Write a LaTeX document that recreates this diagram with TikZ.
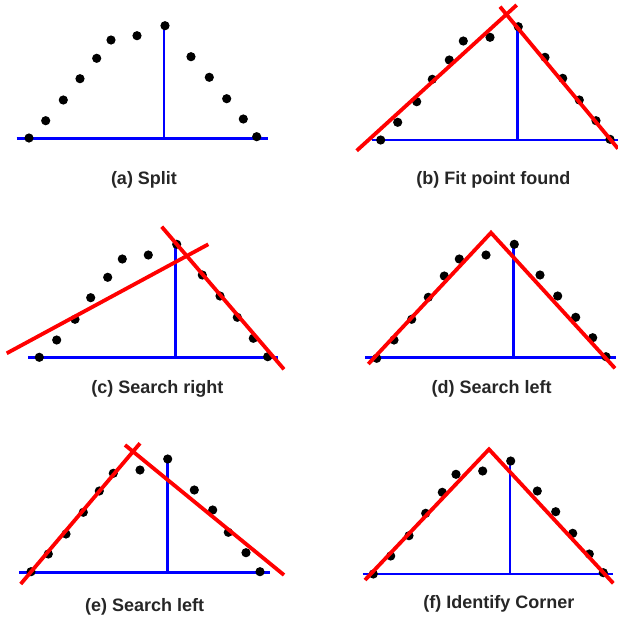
\documentclass[tikz,border=0pt]{standalone}
\usepackage{fontspec}
\setmainfont{Liberation Sans}
\begin{document}
\begin{tikzpicture}[x=1pt,y=-1pt,
  dot/.style={fill=black,draw=none},
  baseln/.style={draw=blue,line width=2.8pt},
  fitln/.style={draw=red,line width=3.8pt,line join=miter},
  caption/.style={font=\fontsize{18}{21}\selectfont\bfseries,text=black!85,inner sep=0pt}]
\useasboundingbox (0,0) rectangle (618,619);
% ---------- (a) ----------
\draw[baseln] (16.7,138.3) -- (267.7,138.3);
\draw[baseln] (164,25.7) -- (164,138.3);
\foreach \p in {(29,138),(45.7,120.7),(63.3,100),(80,78.7),(96.7,58.3),(111,40),(137,35.7),(165,25.7),(191,56.7),(209.3,77.3),(226.7,98.7),(243.3,119),(256.7,136.7)}
  \fill[dot] \p circle (4.6);
\node[caption] (capa) at (144,180) {(a) Split};
% ---------- (b) ----------
\draw[baseln] (371.7,140) -- (618,140);
\draw[baseln] (517.3,26.7) -- (517.3,140);
\foreach \p in {(380.7,140),(397.7,122.3),(416.7,101.7),(432.3,79.3),(449.3,60),(463.3,41),(490,37.3),(518.3,26.7),(545,57.3),(562.7,78.3),(579.3,100),(596,120.7),(610,139.3)}
  \fill[dot] \p circle (4.6);
\draw[fitln] (356.7,150.7) -- (516.7,5);
\draw[fitln] (500,6.7) -- (618,148.6);
\node[caption] (capb) at (493.3,180) {(b) Fit point found};
% ---------- (c) ----------
\draw[baseln] (28.3,357.7) -- (278.3,357.7);
\draw[baseln] (175.7,244.3) -- (175.7,357.7);
\foreach \p in {(39.3,357.3),(56.7,340),(75,319.3),(90.7,297.7),(107.7,277.3),(122.3,259),(148.3,255),(176.7,244.3),(202.3,275),(220,296),(237.3,317.3),(253.3,338.3),(267.7,356.7)}
  \fill[dot] \p circle (4.6);
\draw[fitln] (6.7,353.3) -- (208.3,244.3);
\draw[fitln] (161.7,226.7) -- (284,369.3);
\node[caption] (capc) at (157.3,389) {(c) Search right};
% ---------- (d) ----------
\draw[baseln] (365,357.7) -- (616,357.7);
\draw[baseln] (513.3,244.3) -- (513.3,357.7);
\foreach \p in {(376.7,358.3),(394,340),(411.7,319.3),(428.3,297.3),(444.3,276),(459.3,259),(486,255),(514.3,244.3),(540,275),(557.7,296),(575.7,317.3),(592.7,337.7),(606,356.7)}
  \fill[dot] \p circle (4.6);
\draw[fitln] (368.3,364) -- (491,232.7) -- (615,368.3);
\node[caption] (capd) at (491.7,389) {(d) Search left};
% ---------- (e) ----------
\draw[baseln] (19.3,572.7) -- (270,572.7);
\draw[baseln] (167.7,459) -- (167.7,572.7);
\foreach \p in {(31,571.7),(48.3,554),(66,534),(83.3,512.3),(99.3,491),(113.3,473.3),(140,470),(167.7,459),(194.3,490),(212.7,510),(228.3,532.3),(246,552.7),(260,571.7)}
  \fill[dot] \p circle (4.6);
\draw[fitln] (20.7,584) -- (140,443.3);
\draw[fitln] (125,445) -- (284,575);
\node[caption] (cape) at (144.7,606.7) {(e) Search left};
% ---------- (f) ----------
\draw[baseln] (362.7,574) -- (613.3,574);
\draw[baseln] (510,461) -- (510,574);
\foreach \p in {(373.3,574),(390.7,556),(409,535.7),(425.7,513.3),(442.3,492.3),(456,474.3),(482.7,471),(510.7,461),(537.3,491),(555.7,511.7),(572.7,533.3),(589.3,554),(603.3,572.7)}
  \fill[dot] \p circle (4.6);
\draw[fitln] (365,580) -- (489,449.3) -- (613.3,583.3);
\node[caption] (capf) at (498.8,604) {(f) Identify Corner};
\end{tikzpicture}
\end{document}
